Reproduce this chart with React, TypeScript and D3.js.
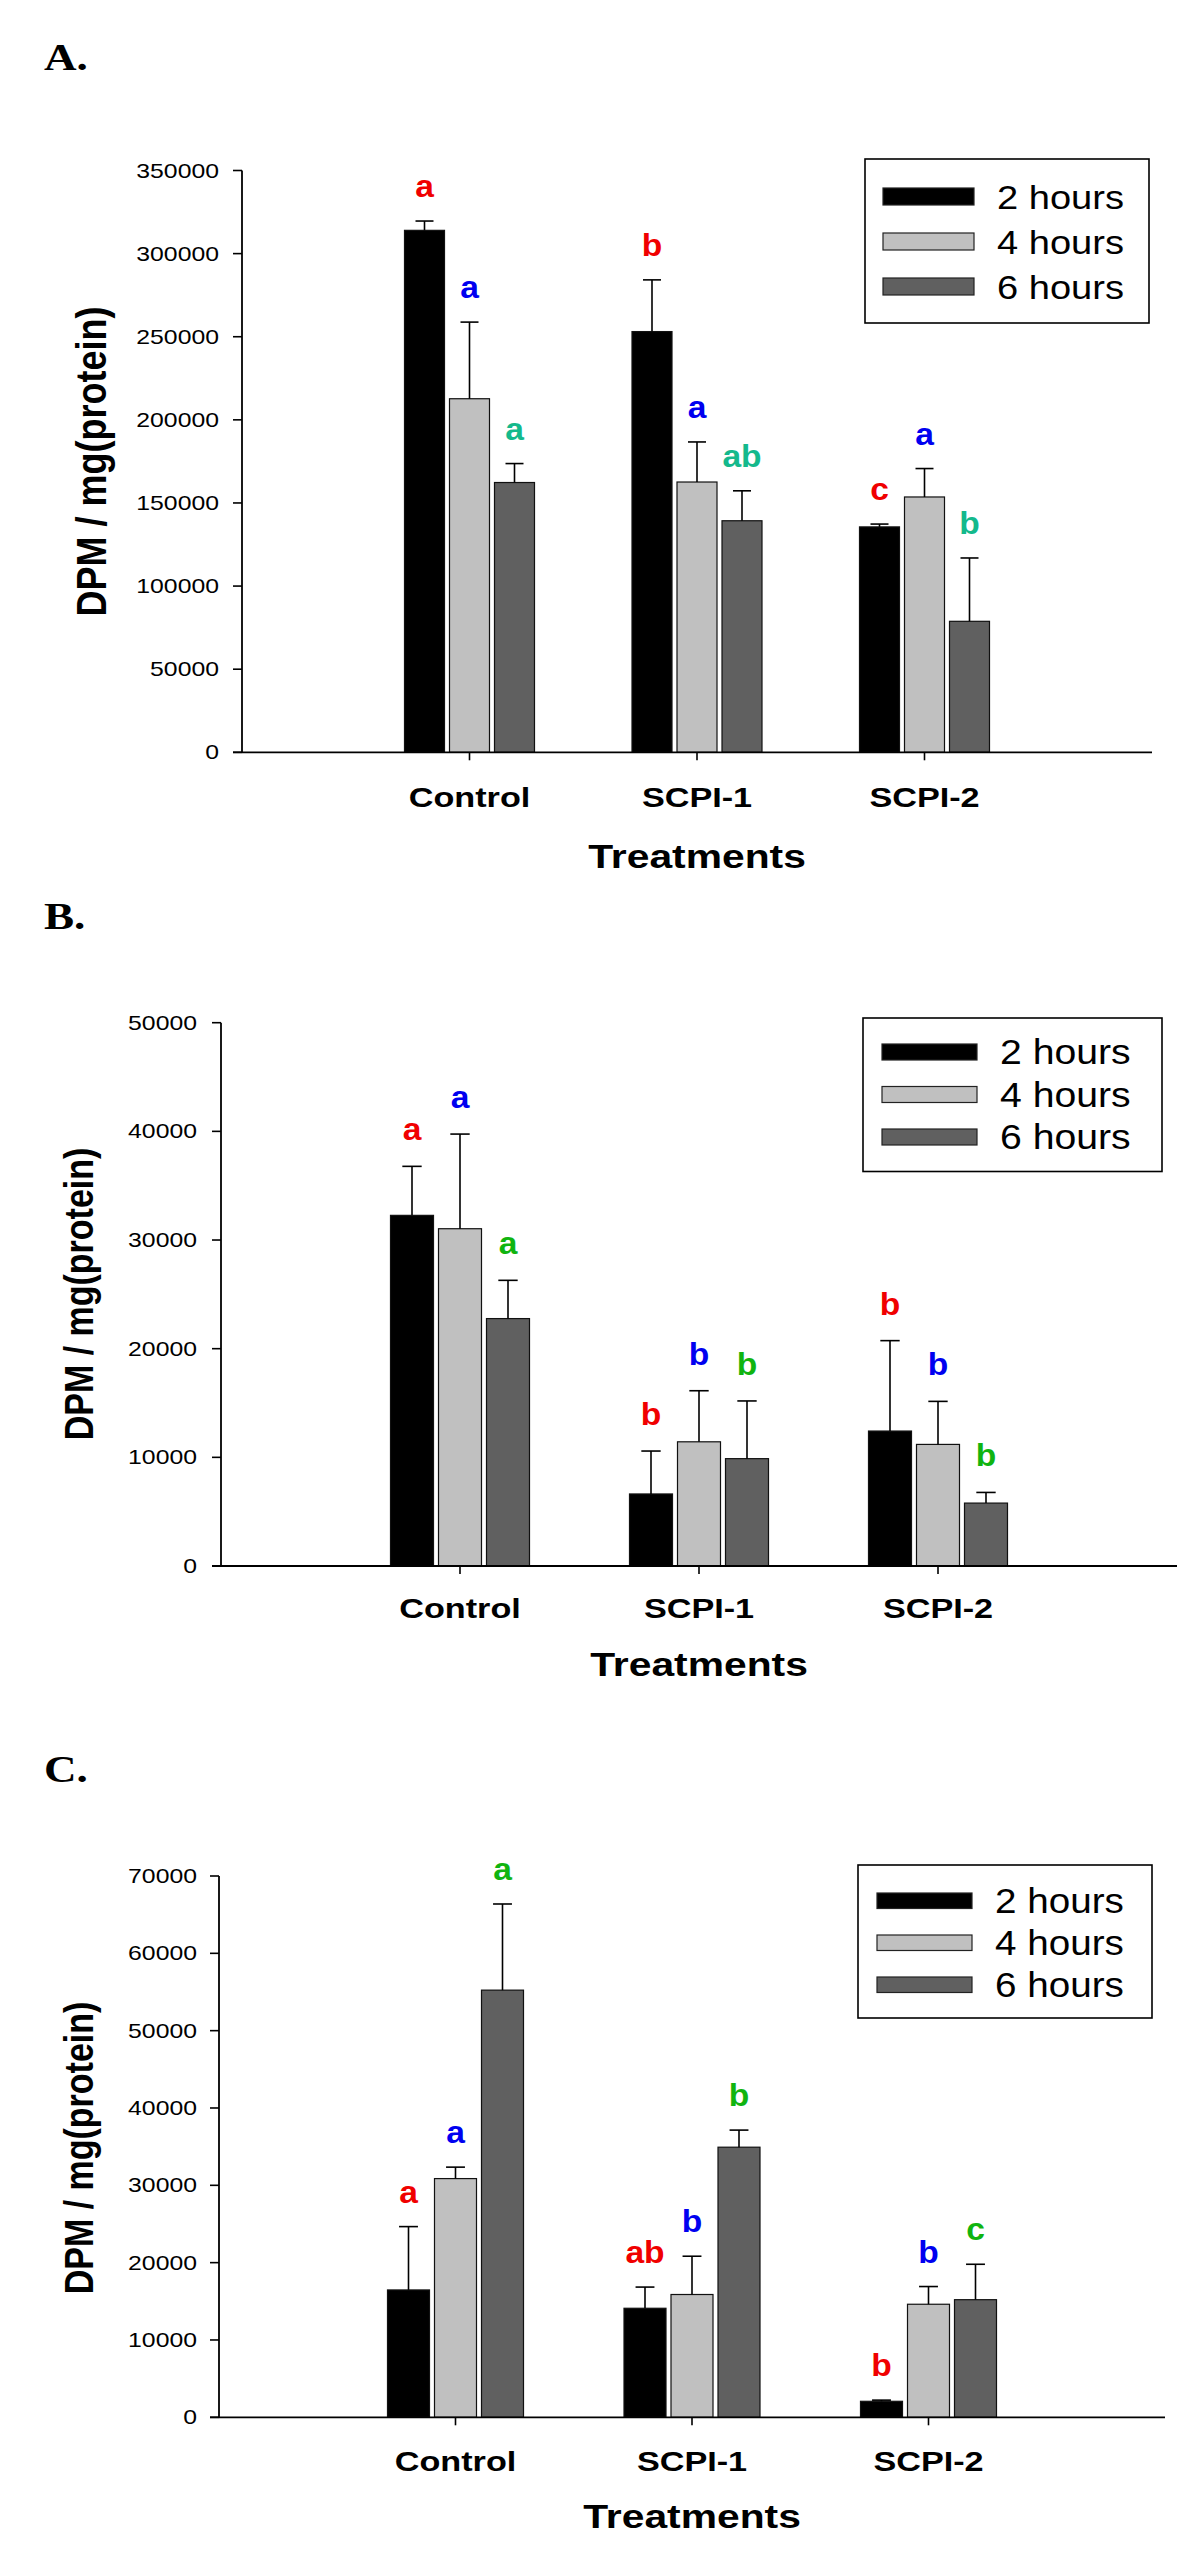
import React from "react";
import * as d3 from "d3";

// ---------- data ----------
const categories = ["Control", "SCPI-1", "SCPI-2"];
const seriesLabels = ["2 hours", "4 hours", "6 hours"];

// Panel A
const aMean2h = [314000, 253100, 135600];
const aMean4h = [212700, 162600, 153600];
const aMean6h = [162300, 139300, 78800];
const aErr2h = [5600, 31100, 1700];
const aErr4h = [46100, 24100, 17100];
const aErr6h = [11400, 18000, 38100];
const aLetters2h = ["a", "b", "c"];
const aLetters4h = ["a", "a", "a"];
const aLetters6h = ["a", "ab", "b"];

// Panel B
const bMean2h = [32270, 6630, 12420];
const bMean4h = [31040, 11430, 11190];
const bMean6h = [22770, 9880, 5790];
const bErr2h = [4510, 3950, 8320];
const bErr4h = [8710, 4700, 3960];
const bErr6h = [3520, 5310, 980];
const bLetters2h = ["a", "b", "b"];
const bLetters4h = ["a", "b", "b"];
const bLetters6h = ["a", "b", "b"];

// Panel C
const cMean2h = [16470, 14100, 2070];
const cMean4h = [30870, 15880, 14620];
const cMean6h = [55240, 34930, 15210];
const cErr2h = [8190, 2740, 150];
const cErr4h = [1480, 4950, 2290];
const cErr6h = [11140, 2210, 4580];
const cLetters2h = ["a", "ab", "b"];
const cLetters4h = ["a", "b", "b"];
const cLetters6h = ["a", "b", "c"];

// ---------- styles ----------
const barFills = ["#000000", "#c0c0c0", "#606060"];
const RED = "#f00000";
const BLUE = "#0000f0";
const TEAL = "#14b98c";
const GREEN = "#10b410";
const SANS = "'Liberation Sans', Arial, sans-serif";
const SERIF = "'Liberation Serif', 'Times New Roman', serif";

const panels = [
  {
    tag: "A.",
    means: [aMean2h, aMean4h, aMean6h],
    errs: [aErr2h, aErr4h, aErr6h],
    letters: [aLetters2h, aLetters4h, aLetters6h],
    letterColors: [RED, BLUE, TEAL],
    yMax: 350000,
    yStep: 50000,
    L: {
      tagY: 70, axisX: 242, axisRight: 1152, y0: 752.3, yTop: 170.5,
      barW: 40, barStep: 45, labelRight: 219,
      legend: [865, 159, 1149, 323], swX: [883, 974], swH: 17, swY: 188, swStep: 45,
      legTextX: 997, legBase: 209, legFont: 34,
      catBase: 807, treatBase: 868, titleX: 106, titleY: 461.5, titleFont: 36,
      letterGap: 24,
    },
  },
  {
    tag: "B.",
    means: [bMean2h, bMean4h, bMean6h],
    errs: [bErr2h, bErr4h, bErr6h],
    letters: [bLetters2h, bLetters4h, bLetters6h],
    letterColors: [RED, BLUE, GREEN],
    yMax: 50000,
    yStep: 10000,
    L: {
      tagY: 929, axisX: 221, axisRight: 1177, y0: 1566, yTop: 1022.7,
      barW: 43, barStep: 48, labelRight: 197,
      legend: [863, 1018, 1162, 1171.5], swX: [882, 977], swH: 16, swY: 1044, swStep: 42.5,
      legTextX: 1000, legBase: 1064, legFont: 35,
      catBase: 1618, treatBase: 1676, titleX: 93, titleY: 1294, titleFont: 34,
      letterGap: 26,
    },
  },
  {
    tag: "C.",
    means: [cMean2h, cMean4h, cMean6h],
    errs: [cErr2h, cErr4h, cErr6h],
    letters: [cLetters2h, cLetters4h, cLetters6h],
    letterColors: [RED, BLUE, GREEN],
    yMax: 70000,
    yStep: 10000,
    L: {
      tagY: 1782, axisX: 219, axisRight: 1165, y0: 2417.3, yTop: 1876,
      barW: 42, barStep: 47, labelRight: 197,
      legend: [858, 1865, 1152, 2018], swX: [877, 972], swH: 15.5, swY: 1893, swStep: 42,
      legTextX: 995, legBase: 1913, legFont: 34.5,
      catBase: 2471, treatBase: 2528, titleX: 93, titleY: 2148, titleFont: 34,
      letterGap: 24,
    },
  },
];

function Panel({ p }: { p: any }) {
  const L = p.L;
  const y = d3.scaleLinear().domain([0, p.yMax]).range([L.y0, L.yTop]);
  const x = d3.scaleLinear().domain([0, categories.length + 1]).range([L.axisX, L.axisRight]);
  const ticks = d3.range(0, p.yMax + 1, p.yStep);
  const fmt = d3.format("d");
  const center = (i: number) => x(i + 1);
  const off = (s: number) => (s - 1) * L.barStep;

  return (
    <g>
      <text
        transform={`translate(44,${L.tagY}) scale(1.22,1)`}
        fontFamily={SERIF}
        fontWeight="bold"
        fontSize={37}
      >
        {p.tag}
      </text>

      {/* bars */}
      {p.means.map((series: number[], s: number) =>
        series.map((v: number, i: number) => {
          const cx = center(i) + off(s);
          return (
            <rect
              key={`b${s}-${i}`}
              x={cx - L.barW / 2}
              y={y(v)}
              width={L.barW}
              height={y(0) - y(v)}
              fill={barFills[s]}
              stroke="#111"
              strokeWidth={1.2}
            />
          );
        })
      )}

      {/* error bars */}
      {p.means.map((series: number[], s: number) =>
        series.map((v: number, i: number) => {
          const cx = center(i) + off(s);
          const top = y(v + p.errs[s][i]);
          const cap = L.barW * 0.45;
          return (
            <g key={`e${s}-${i}`} stroke="#000" strokeWidth={1.6}>
              <line x1={cx} x2={cx} y1={y(v)} y2={top} />
              <line x1={cx - cap / 2} x2={cx + cap / 2} y1={top} y2={top} />
            </g>
          );
        })
      )}

      {/* letters */}
      {p.means.map((series: number[], s: number) =>
        series.map((v: number, i: number) => {
          const cx = center(i) + off(s);
          const top = y(v + p.errs[s][i]);
          return (
            <text
              key={`l${s}-${i}`}
              transform={`translate(${cx},${top - L.letterGap}) scale(1.05,1)`}
              textAnchor="middle"
              fontFamily={SANS}
              fontWeight="bold"
              fontSize={32}
              fill={p.letterColors[s]}
            >
              {p.letters[s][i]}
            </text>
          );
        })
      )}

      {/* y axis */}
      <line x1={L.axisX} x2={L.axisX} y1={y(p.yMax)} y2={y(0)} stroke="#000" strokeWidth={1.8} />
      {ticks.map((t: number) => (
        <g key={`t${t}`}>
          <line x1={L.axisX - 9} x2={L.axisX} y1={y(t)} y2={y(t)} stroke="#000" strokeWidth={1.6} />
          <text
            transform={`translate(${L.labelRight},${y(t)}) scale(1.24,1)`}
            textAnchor="end"
            dy="0.35em"
            fontFamily={SANS}
            fontSize={20}
            fill="#000"
          >
            {fmt(t)}
          </text>
        </g>
      ))}

      {/* x axis */}
      <line x1={L.axisX - 9} x2={L.axisRight} y1={y(0)} y2={y(0)} stroke="#000" strokeWidth={1.8} />
      {categories.map((c, i) => (
        <g key={c}>
          <line x1={center(i)} x2={center(i)} y1={y(0)} y2={y(0) + 8} stroke="#000" strokeWidth={1.6} />
          <text
            transform={`translate(${center(i)},${L.catBase}) scale(1.2,1)`}
            textAnchor="middle"
            fontFamily={SANS}
            fontWeight="bold"
            fontSize={28.5}
          >
            {c}
          </text>
        </g>
      ))}
      <text
        transform={`translate(${(L.axisX + L.axisRight) / 2},${L.treatBase}) scale(1.2,1)`}
        textAnchor="middle"
        fontFamily={SANS}
        fontWeight="bold"
        fontSize={34}
      >
        Treatments
      </text>
      <text
        transform={`translate(${L.titleX},${L.titleY}) scale(1.2,1) rotate(-90)`}
        textAnchor="middle"
        fontFamily={SANS}
        fontWeight="bold"
        fontSize={L.titleFont}
      >
        DPM / mg(protein)
      </text>

      {/* legend */}
      <rect
        x={L.legend[0]}
        y={L.legend[1]}
        width={L.legend[2] - L.legend[0]}
        height={L.legend[3] - L.legend[1]}
        fill="#fff"
        stroke="#000"
        strokeWidth={1.6}
      />
      {seriesLabels.map((lab, s) => (
        <g key={lab}>
          <rect
            x={L.swX[0]}
            y={L.swY + s * L.swStep}
            width={L.swX[1] - L.swX[0]}
            height={L.swH}
            fill={barFills[s]}
            stroke="#222"
            strokeWidth={1.2}
          />
          <text
            transform={`translate(${L.legTextX},${L.legBase + s * L.swStep}) scale(1.12,1)`}
            fontFamily={SANS}
            fontSize={L.legFont}
          >
            {lab}
          </text>
        </g>
      ))}
    </g>
  );
}

export default function App() {
  return (
    <svg
      width={1200}
      height={2564}
      viewBox="0 0 1200 2564"
      style={{ position: "absolute", left: 0, top: 0, background: "#fff" }}
    >
      <rect x={0} y={0} width={1200} height={2564} fill="#fff" />
      {panels.map((p) => (
        <Panel key={p.tag} p={p} />
      ))}
    </svg>
  );
}
